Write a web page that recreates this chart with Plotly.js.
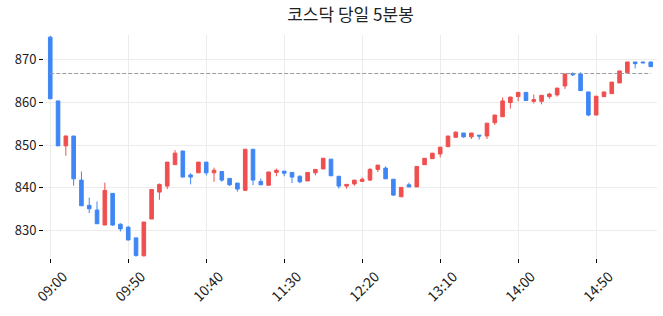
<!DOCTYPE html>
<html>
<head>
<meta charset="utf-8">
<script src="https://cdn.plot.ly/plotly-3.0.1.min.js"></script>
<style>html,body{margin:0;padding:0;background:#fff}#chart{width:663px;height:316px}</style>
</head>
<body>
<div id="chart"></div>
<script>
const times = ["09:00","09:05","09:10","09:15","09:20","09:25","09:30","09:35","09:40","09:45",
"09:50","09:55","10:00","10:05","10:10","10:15","10:20","10:25","10:30","10:35",
"10:40","10:45","10:50","10:55","11:00","11:05","11:10","11:15","11:20","11:25",
"11:30","11:35","11:40","11:45","11:50","11:55","12:00","12:05","12:10","12:15",
"12:20","12:25","12:30","12:35","12:40","12:45","12:50","12:55","13:00","13:05",
"13:10","13:15","13:20","13:25","13:30","13:35","13:40","13:45","13:50","13:55",
"14:00","14:05","14:10","14:15","14:20","14:25","14:30","14:35","14:40","14:45",
"14:50","14:55","15:00","15:05","15:10","15:15","15:20","15:30"];

const openV = [875.2,860.3,849.8,852.1,841.8,835.9,834.8,831.3,838.7,831.5,
830.8,828.3,824.1,832.7,839.0,840.4,845.4,848.6,843.0,843.5,
846.0,843.5,843.8,842.2,841.1,839.4,849.0,841.5,840.6,843.6,
843.9,843.6,842.7,841.6,843.5,844.4,846.7,842.7,840.4,840.9,
841.5,841.8,844.3,844.6,842.0,837.9,840.7,840.2,845.4,846.8,
847.9,849.6,851.8,852.8,851.9,852.3,852.1,855.2,856.6,859.9,
861.3,862.3,860.2,860.2,861.3,861.7,863.8,866.7,866.6,862.4,
857.0,861.3,862.0,864.5,866.9,869.4,869.4,869.4];
const highV = [875.5,860.3,852.2,852.1,843.8,837.7,836.8,841.2,838.7,831.7,
831.1,828.4,832.0,839.6,841.0,846.0,848.8,848.6,843.4,846.0,
846.0,844.7,843.8,842.2,841.1,849.0,849.0,842.2,843.7,844.5,
843.9,843.6,842.9,843.6,844.3,846.9,846.7,842.7,840.8,841.8,
842.4,844.6,845.3,845.0,842.0,840.1,841.2,845.0,846.9,848.1,
849.5,852.1,853.2,852.8,852.8,852.3,855.1,857.0,861.1,861.2,
862.3,862.3,861.8,861.6,862.2,863.3,866.6,867.0,867.0,862.4,
861.4,862.4,864.7,867.3,869.4,869.4,869.4,869.4];
const lowV = [860.8,849.8,847.5,840.5,835.8,834.1,831.6,831.3,831.1,829.8,
827.8,823.9,824.0,832.7,837.2,839.7,845.4,842.5,840.8,843.5,
842.9,841.4,841.4,840.4,839.1,839.4,840.6,840.7,840.6,842.7,
842.7,841.1,841.1,841.6,842.9,844.4,842.8,839.8,839.8,840.5,
841.5,841.6,843.7,842.1,838.1,837.9,840.2,840.2,845.4,846.8,
847.1,849.6,851.8,851.7,851.4,851.3,851.4,854.7,856.6,858.5,
860.2,860.3,859.7,859.5,860.8,861.3,863.1,866.1,862.7,856.7,
857.0,861.3,862.0,864.5,866.9,867.9,869.2,868.3];
const closeV = [860.8,849.8,852.1,842.1,835.8,835.1,831.6,839.4,831.3,830.4,
827.8,824.2,832.0,839.6,840.8,846.0,848.1,842.5,842.5,846.0,
843.5,844.1,841.8,840.7,839.7,849.0,841.8,840.7,843.7,844.1,
843.4,842.5,841.4,843.6,844.3,846.9,842.8,840.4,840.8,841.8,
842.0,844.3,845.3,842.1,838.3,840.1,840.2,845.0,846.9,848.1,
849.5,852.1,853.0,851.9,852.8,852.1,855.1,857.0,860.3,861.2,
862.3,860.4,860.6,861.6,861.9,863.3,866.6,866.4,862.7,857.0,
861.4,862.4,864.7,867.3,869.4,869.0,869.2,868.3];

const prevClose = 866.7;
const tickLabels = ["09:00","09:50","10:40","11:30","12:20","13:10","14:00","14:50"];
const yTicks = [830, 840, 850, 860, 870];

const UP = '#F04F4F', DOWN = '#3F86F5';
const FONT = '"Noto Sans CJK KR", "Noto Sans", sans-serif';

const traces = [
  {
    type: 'candlestick',
    x: times, open: openV, high: highV, low: lowV, close: closeV,
    increasing: {line: {color: UP, width: 1}, fillcolor: UP},
    decreasing: {line: {color: DOWN, width: 1}, fillcolor: DOWN},
    whiskerwidth: 0,
    hoverinfo: 'skip',
    showlegend: false
  },
  {
    type: 'scatter', mode: 'lines',
    x: [times[0], times[times.length - 1]],
    y: [prevClose, prevClose],
    line: {color: '#9a9aa2', width: 1, dash: '4px,2px'},
    hoverinfo: 'skip', showlegend: false
  }
];

const layout = {
  width: 663, height: 316,
  margin: {l: 44, r: 6, t: 35, b: 58},
  paper_bgcolor: '#fff', plot_bgcolor: '#fff',
  font: {family: FONT, color: '#222', size: 12},
  title: {text: '코스닥 당일 5분봉', x: 0.5, xref: 'paper', y: 0.952, yref: 'container', yanchor: 'middle',
          font: {family: FONT, size: 17, color: '#222'}},
  boxgap: 0.34,
  xaxis: {
    type: 'category', range: [-0.8, times.length - 0.2],
    rangeslider: {visible: false},
    tickmode: 'array', tickvals: tickLabels, ticktext: tickLabels,
    tickangle: -45, ticks: 'outside', ticklen: 4, tickcolor: '#000', tickwidth: 1,
    showgrid: true, gridcolor: '#ececec', gridwidth: 1,
    showline: false, zeroline: false,
    tickfont: {family: FONT, size: 14, color: '#222'},
    ticklabelshift: 13
  },
  yaxis: {
    range: [823.6, 875.7],
    tickmode: 'array', tickvals: yTicks, ticktext: yTicks.map(String),
    ticks: 'outside', ticklen: 4, tickcolor: '#000', tickwidth: 1,
    showgrid: true, gridcolor: '#ececec', gridwidth: 1,
    showline: false, zeroline: false,
    tickfont: {family: FONT, size: 13, color: '#222'}
  },
  showlegend: false
};

Plotly.newPlot('chart', traces, layout, {staticPlot: true, displayModeBar: false});
</script>
</body>
</html>
